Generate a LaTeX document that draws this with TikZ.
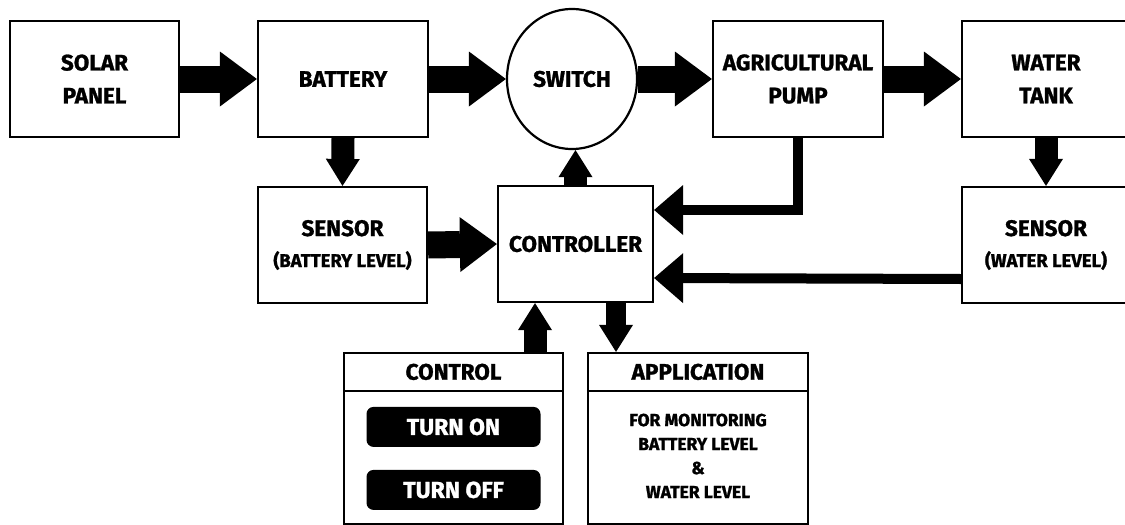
\documentclass[tikz,border=0pt]{standalone}
\usepackage{fontspec}
\setmainfont{Fira Sans}[BoldFeatures={FakeBold=1.2}]
\usetikzlibrary{arrows.meta,shapes.geometric}
\begin{document}
\begin{tikzpicture}[x=1pt,y=-1pt,
  box/.style={draw=black,line width=2.2pt,fill=white,minimum width=170pt,minimum height=116pt,
    inner sep=0pt,align=center,font=\bfseries\fontsize{22.5}{33}\selectfont},
  panel/.style={draw=black,line width=2.2pt,fill=white,minimum width=220pt,minimum height=171pt,inner sep=0pt},
  hdr/.style={font=\bfseries\fontsize{22.5}{25}\selectfont,inner sep=0pt},
  btn/.style={fill=black,text=white,rounded corners=7pt,minimum width=174pt,minimum height=40pt,
    inner sep=0pt,font=\bfseries\fontsize{23}{25}\selectfont},
  big/.style={line width=27pt,-{Triangle[width=55pt,length=37pt,line width=0pt]}},
  med/.style={line width=23pt,-{Triangle[width=34pt,length=27pt,line width=0pt]}},
  thin/.style={line width=10pt,line join=miter,-{Triangle[width=50pt,length=29pt,line width=0pt]}}
]
\useasboundingbox (0,0) rectangle (1125,525);
% top row
\node[box,minimum width=169pt] (solar) at (94.5,79) {SOLAR\\PANEL};
\node[box] (battery) at (343,79) {BATTERY};
\node[box,ellipse,minimum width=130pt,minimum height=140pt] (switch) at (572,79) {SWITCH};
\node[box] (pump) at (798,79) {AGRICULTURAL\\PUMP};
\node[box,minimum width=168pt] (tank) at (1046,79) {WATER\\TANK};
% middle row
\node[box,minimum width=169pt] (bsens) at (342.5,245)
  {SENSOR\\[-2pt]{\fontsize{18.5}{20}\selectfont(BATTERY LEVEL)}};
\node[box,minimum width=155pt] (ctrl) at (575.5,244) {CONTROLLER};
\node[box,minimum width=168pt] (wsens) at (1046,245)
  {SENSOR\\[-2pt]{\fontsize{18.5}{20}\selectfont(WATER LEVEL)}};
% bottom panels
\node[panel,minimum width=219pt] (control) at (453.5,438.5) {};
\draw[line width=2.2pt] ([yshift=-39pt]control.north west) -- ([yshift=-39pt]control.north east);
\node[hdr] (controlhdr) at ([yshift=-20pt]control.north) {CONTROL};
\node[btn] (on) at ([yshift=-75pt]control.north) {TURN ON};
\node[btn] (off) at ([yshift=-138pt]control.north) {TURN OFF};
\node[panel] (app) at (698,438.5) {};
\draw[line width=2.2pt] ([yshift=-39pt]app.north west) -- ([yshift=-39pt]app.north east);
\node[hdr] (apphdr) at ([yshift=-20pt]app.north) {APPLICATION};
\node[align=center,inner sep=0pt,font=\bfseries\fontsize{17.5}{24}\selectfont] (apptext)
  at ([yshift=-104pt]app.north) {FOR MONITORING\\BATTERY LEVEL\\\&\\WATER LEVEL};
% arrows
\draw[big] (solar.east) -- (battery.west);
\draw[big] (battery.east) -- (switch.west);
\draw[big] (switch.east) -- (pump.west);
\draw[big] (pump.east) -- (tank.west);
\draw[med] (battery.south) -- (bsens.north);
\draw[med] (tank.south) -- (wsens.north);
\draw[big] (bsens.east) -- (ctrl.west);
\draw[med] (ctrl.north) -- (ctrl.north |- switch.south);
\draw[thin] (pump.south) |- ([yshift=34pt]ctrl.east);
\draw[thin] ([yshift=-34pt]wsens.west) -- ([yshift=-34pt]ctrl.east);
\draw[med] ([xshift=81.5pt]control.north) -- ([xshift=81.5pt]control.north |- ctrl.south);
\draw[med,line width=20pt] ([xshift=40.5pt]ctrl.south) -- ([xshift=40.5pt]ctrl.south |- app.north);
\end{tikzpicture}
\end{document}
